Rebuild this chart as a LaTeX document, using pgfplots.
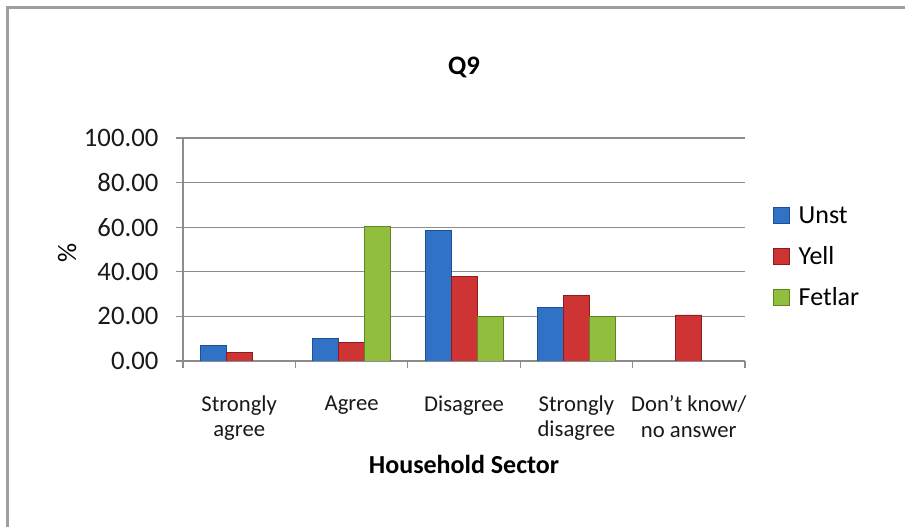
\documentclass[border=0pt]{standalone}
\usepackage{fontspec}
\setmainfont{Carlito}
\usepackage{pgfplots}
\pgfplotsset{compat=1.18}

\definecolor{unstc}{HTML}{2F72C6}
\definecolor{unste}{HTML}{1E4F90}
\definecolor{yellc}{HTML}{CF3434}
\definecolor{yelle}{HTML}{8E1C1C}
\definecolor{fetlc}{HTML}{92BE3E}
\definecolor{fetle}{HTML}{5E8424}
\definecolor{gridgray}{HTML}{8C8C8C}

\begin{document}
\begin{tikzpicture}
\fill[white] (0pt,0pt) rectangle (678.75pt,395.25pt);
\useasboundingbox (0pt,0pt) rectangle (678.75pt,395.25pt);
\draw[line width=2.2pt, color=gray!75] (5.6pt,0pt) -- (5.6pt,389.6pt) -- (678.75pt,389.6pt);
\begin{axis}[
  at={(137.25pt,124.5pt)}, anchor=south west,
  scale only axis, width=421.5pt, height=167.25pt,
  ybar=0pt, bar width=19.5pt,
  xmin=-0.5, xmax=4.5, ymin=0, ymax=100,
  xtick={0,1,2,3,4},
  xticklabels={{Strongly\\agree},{Agree},{Disagree},{Strongly\\disagree},{Don’t know/\\no answer}},
  minor xtick={-0.5,0.5,1.5,2.5,3.5,4.5},
  ytick={0,20,40,60,80,100},
  axis x line*=bottom, axis y line*=left,
  axis line style={-, draw=gridgray, line width=0.9pt},
  tick align=outside,
  major tick length=5.5pt, minor tick length=5.5pt,
  major x tick style={draw=none},
  minor x tick style={draw=gridgray, line width=0.9pt},
  major y tick style={draw=gridgray, line width=0.9pt},
  ymajorgrids, grid style={draw=gridgray, line width=0.9pt},
  /pgf/number format/.cd, fixed, fixed zerofill, precision=2, assume math mode=true,
  /pgfplots/.cd,
  yticklabel style={font=\fontsize{20}{22}\selectfont, color=black!90, xshift=-9.5pt},
  xticklabel style={font=\fontsize{17}{19}\selectfont, align=center, anchor=north, yshift=-17pt, color=black!90},
  title={\textbf{Q9}},
  title style={font=\fontsize{20}{22}\selectfont, at={(axis description cs:0.5,1.28)}, anchor=center},
  xlabel={\textbf{Household Sector}},
  xlabel style={font=\fontsize{19.5}{22}\selectfont, at={(axis description cs:0.5,-0.466)}, anchor=center},
  ylabel={\%},
  ylabel style={font=\fontsize{20}{22}\selectfont, at={(axis description cs:-0.206,0.484)}, anchor=center},
  legend style={draw=none, fill=none, at={(axis description cs:1.05,0.466)}, anchor=west,
    font=\fontsize{19.5}{22}\selectfont, row sep=12pt, inner sep=0pt,
    /tikz/every odd column/.append style={column sep=4.5pt}},
  legend cell align=left,
  legend image code/.code={\draw[#1] (0pt,-6pt) rectangle (12pt,6pt);},
]
\addplot[draw=unste, line width=0.5pt, fill=unstc]
  coordinates {(0,6.9) (1,10.3) (2,58.6) (3,24.1)};
\addplot[draw=yelle, line width=0.5pt, fill=yellc]
  coordinates {(0,3.8) (1,8.5) (2,37.9) (3,29.3) (4,20.7)};
\addplot[draw=fetle, line width=0.5pt, fill=fetlc]
  coordinates {(1,60.3) (2,20.0) (3,20.0)};
\legend{Unst, Yell, Fetlar}
\end{axis}
\end{tikzpicture}
\end{document}
